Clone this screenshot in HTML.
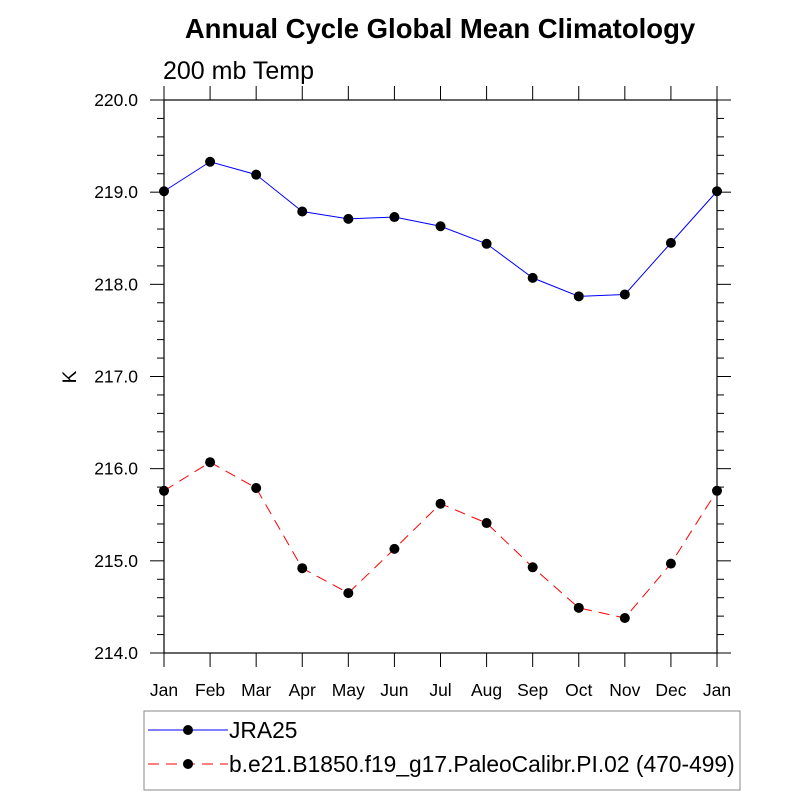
<!DOCTYPE html>
<html><head><meta charset="utf-8"><style>
body{margin:0;background:#fff;font-family:"Liberation Sans",sans-serif}
svg text{font-family:"Liberation Sans",sans-serif}
</style></head><body>
<svg id="chart" width="800" height="800">
<text x="440" y="38" text-anchor="middle" font-size="27.5" font-weight="bold">Annual Cycle Global Mean Climatology</text>
<text x="163" y="79" font-size="25">200 mb Temp</text>
<text x="0" y="0" transform="translate(76,377) rotate(-90)" text-anchor="middle" font-size="19">K</text>
<g id="axes"></g><g id="marks"></g>
<rect x="144" y="711" width="596" height="79" fill="none" stroke="#888" stroke-width="1"/>
<line x1="148" y1="730" x2="228" y2="730" stroke="#00f"/>
<circle cx="188" cy="730" r="5"/>
<text x="229" y="738" font-size="22.8">JRA25</text>
<line x1="148" y1="764" x2="228" y2="764" stroke="#f00" stroke-dasharray="11,7"/>
<circle cx="188" cy="764" r="5"/>
<text x="229" y="772" font-size="22.8">b.e21.B1850.f19_g17.PaleoCalibr.PI.02 (470-499)</text>
</svg>
<script>
const months=["Jan","Feb","Mar","Apr","May","Jun","Jul","Aug","Sep","Oct","Nov","Dec","Jan"];
const jra25=[219.01,219.33,219.19,218.79,218.71,218.73,218.63,218.44,218.07,217.87,217.89,218.45,219.01];
const model=[215.76,216.07,215.79,214.92,214.65,215.13,215.62,215.41,214.93,214.49,214.38,214.97,215.76];
const yTicks=["214.0","215.0","216.0","217.0","218.0","219.0","220.0"];
const L=164,R=717,T=100,B=653,ymin=214,ymax=220;
const X=i=>L+(R-L)*i/(months.length-1);
const Y=v=>B-(v-ymin)/(ymax-ymin)*(B-T);
const NS="http://www.w3.org/2000/svg";
const ax=document.getElementById('axes'),mk=document.getElementById('marks');
function mkEl(t,a,p){const e=document.createElementNS(NS,t);for(const k in a)e.setAttribute(k,a[k]);p.appendChild(e);return e;}
const frame=mkEl('rect',{x:L,y:T,width:R-L,height:B-T,fill:'none',stroke:'#000','stroke-width':1.2},ax);


for(let i=0;i<months.length;i++){
  const x=X(i);
  const t1=mkEl('line',{x1:x,y1:B,x2:x,y2:B+14,stroke:'#000'},ax);
  
  
  const t2=mkEl('line',{x1:x,y1:T,x2:x,y2:T-14,stroke:'#000'},ax);
  
  
  const lb=mkEl('text',{x:x,y:696,'text-anchor':'middle','font-size':17.5},ax);
  lb.textContent=months[i];
  
  
}
for(let v=ymin;v<=ymax+1e-9;v+=0.2){
  const y=Y(v),maj=Math.abs(v-Math.round(v))<1e-6,len=maj?14:7;
  const a=mkEl('line',{x1:L,y1:y,x2:L-len,y2:y,stroke:'#000'},ax);
  
  
  const b=mkEl('line',{x1:R,y1:y,x2:R+len,y2:y,stroke:'#000'},ax);
  
  
}
yTicks.forEach(s=>{
  const lb=mkEl('text',{x:138,y:Y(parseFloat(s))+6,'text-anchor':'end','font-size':17.5},ax);
  lb.textContent=s;
  
  
});
function series(d,col,dash,name){
  const pl=mkEl('polyline',{points:d.map((v,i)=>X(i)+','+Y(v)).join(' '),fill:'none',stroke:col,'stroke-dasharray':dash},mk);
  
  
  d.forEach((v,i)=>{
    const c=mkEl('circle',{cx:X(i),cy:Y(v),r:5,fill:'#000'},mk);
    
    
  });
}
series(jra25,'#00f','none','jra25');
series(model,'#f00','11,7','model');
</script>
</body></html>
